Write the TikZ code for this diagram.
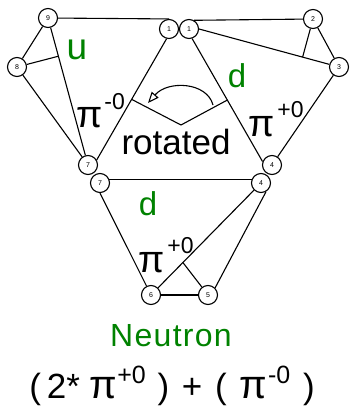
\documentclass[tikz,border=0pt]{standalone}
\usepackage{fontspec}
\setmainfont{Liberation Sans}
\usetikzlibrary{calc,arrows.meta}
\definecolor{lblgreen}{RGB}{0,130,0}
\newcommand\mypi{{\fontsize{38}{38}\selectfont π}}
\newcommand\mybigpi{{\fontsize{40}{40}\selectfont π}}
\newcommand\mysup[2]{\raisebox{#1}{\fontsize{23}{23}\selectfont #2}}
\newcommand\mybigsup[2]{\raisebox{#1}{\fontsize{25}{25}\selectfont #2}}
\begin{document}
\begin{tikzpicture}[x=1pt,y=-1pt,
  num/.style={circle,draw,fill=white,minimum size=19pt,inner sep=0pt,line width=1.1pt,font=\fontsize{7}{7}\selectfont},
  edge/.style={line width=1.1pt},
  glabel/.style={text=lblgreen,inner sep=0pt,font=\fontsize{33}{33}\selectfont},
  plabel/.style={inner sep=0pt,anchor=base west},
]
\useasboundingbox (0,0) rectangle (349,406);
% nodes
\node[num] (n9) at (48,18) {9};
\node[num] (n8) at (17,67) {8};
\node[num] (n1a) at (169,29) {1};
\node[num] (n1b) at (189,29) {1};
\node[num] (n2) at (313,19) {2};
\node[num] (n3) at (339,67) {3};
\node[num] (n7a) at (88,165) {7};
\node[num] (n7b) at (100,183) {7};
\node[num] (n4a) at (272,165) {4};
\node[num] (n4b) at (261,183) {4};
\node[num] (n6) at (151,295) {6};
\node[num] (n5) at (208,295) {5};
% upper left triangle
\draw[edge] (n9) -- (n1a.north);
\draw[edge] (n9) -- (n8);
\draw[edge] (n9) -- (n7a);
\draw[edge] (n8) -- (n7a);
\coordinate (su) at ($(n9)!0.26!(n7a)$);
\draw[edge] (n8) -- (su);
\draw[edge] (n1a.-104) -- (n7a.30);
% upper right triangle
\draw[edge] (n1b.60) -- (n2);
\draw[edge] (n1b.east) -- (n3);
\coordinate (sd) at ($(n1b.east)!0.74!(n3)$);
\draw[edge] (n2) -- (sd);
\draw[edge] (n2) -- (n3);
\draw[edge] (n3) -- (n4a);
\draw[edge] (n1b.-72) -- (n4a.160);
% lower triangle
\draw[edge] (n7b.20) -- (n4b.160);
\draw[edge] (n7b.south) -- (n6);
\draw[edge] (n4b) -- (n6);
\draw[edge] (n4b.-60) -- (n5.45);
\draw[edge] (n6) -- (n5);
\coordinate (sp) at ($(n6)!0.29!(n4b)$);
\draw[edge] (n5) -- (sp);
% rotated marker
\coordinate (L) at ($(n1a.-104)!0.5!(n7a.30)$);
\coordinate (R) at ($(n1b.-72)!0.5!(n4a.160)$);
\coordinate (B) at (181,125);
\draw[edge] (L) -- (B) -- (R);
\coordinate (as) at (213,105);
\coordinate (ae) at (148,103);
\draw[edge,-{Triangle[open,length=11pt,width=9pt]}] (as) .. controls (207,82) and (168,80) .. (ae);
% labels
\node[glabel,font=\fontsize{37}{37}\selectfont] (lu) at (77,50) {u};
\node[glabel] (ld1) at (237,76) {d};
\node[glabel] (ld2) at (148,204) {d};
\node[inner sep=0pt,anchor=base,font=\fontsize{35}{35}\selectfont] (rot) at (176,154) {rotated};
\node[plabel] (pl) at (76,128) {\mypi\kern2pt\mysup{18pt}{-0}};
\node[plabel] (pr) at (248,137) {\mypi\kern3pt\mysup{19pt}{+0}};
\node[plabel] (pb) at (138,272) {\mypi\kern3pt\mysup{19pt}{+0}};
\node[inner sep=0pt,anchor=base,text=lblgreen,font=\fontsize{32}{32}\selectfont\addfontfeature{LetterSpace=4}] (neu) at (171,346) {Neutron};
\node[inner sep=0pt,anchor=base,font=\fontsize{35}{35}\selectfont] (form) at (172,398) {(\kern6pt 2* \mybigpi\mybigsup{15pt}{+0}\kern2pt\ )\kern3pt\ +\kern3pt\ (\kern3pt\ \mybigpi\kern1pt\mybigsup{15pt}{-0}\kern3pt\ )};
\end{tikzpicture}
\end{document}
